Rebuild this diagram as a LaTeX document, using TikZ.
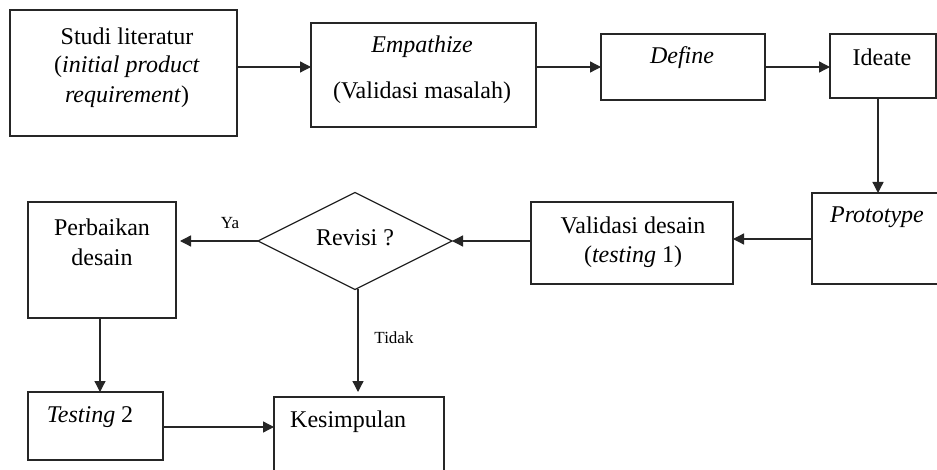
\documentclass[tikz,border=0pt]{standalone}
\usepackage{fontspec}
\setmainfont{Liberation Serif}
\usetikzlibrary{shapes.geometric,arrows.meta}
\begin{document}
\begin{tikzpicture}[x=1pt,y=-1pt,
  box/.style={draw=black!85,line width=1.3pt,inner sep=0pt,outer sep=0pt},
  txt/.style={font=\fontsize{24}{30}\selectfont,inner sep=0pt,align=center},
  small/.style={font=\fontsize{17}{20}\selectfont,inner sep=0pt},
  arr/.style={draw=black!85,line width=1.3pt,-{Triangle[length=11pt,width=11pt]}}]
\useasboundingbox (0,0) rectangle (937,470);
\clip (0,0) rectangle (937,470);
\fill[white] (0,0) rectangle (937,470);
% boxes
\node[box,minimum width=227pt,minimum height=126pt] (b1) at (123.5,73) {};
\node[box,minimum width=225pt,minimum height=104pt] (b2) at (423.5,75) {};
\node[box,minimum width=164pt,minimum height=66pt] (b3) at (683,67) {};
\node[box,minimum width=106pt,minimum height=64pt] (b4) at (883,66) {};
\node[box,minimum width=133pt,minimum height=91pt] (b5) at (878.5,238.5) {};
\node[box,minimum width=202pt,minimum height=82pt] (b6) at (632,243) {};
\node[box,diamond,aspect=2,minimum width=194pt,minimum height=97pt] (d) at (355,241) {};
\node[box,minimum width=148pt,minimum height=116pt] (b7) at (102,260) {};
\node[box,minimum width=135pt,minimum height=68pt] (b8) at (95.5,426) {};
\node[box,minimum width=170pt,minimum height=90pt] (b9) at (359,442) {};
% texts
\node[txt] (t1a) at (127,36) {Studi literatur};
\node[txt] (t1b) at (127,67) {(\textit{initial product}};
\node[txt] (t1c) at (127,97) {\textit{requirement})};
\node[txt] (t2a) at (422,47) {\textit{Empathize}};
\node[txt] (t2b) at (422,93) {(Validasi masalah)};
\node[txt] (t3) at (682,58) {\textit{Define}};
\node[txt] (t4) at (882,57) {Ideate};
\node[txt] (t5) at (877,217) {\textit{Prototype}};
\node[txt] (t6a) at (633,225) {Validasi desain};
\node[txt] (t6b) at (633,257) {(\textit{testing} 1)};
\node[txt] (td) at (355,238) {Revisi ?};
\node[txt] (t7a) at (102,227) {Perbaikan};
\node[txt] (t7b) at (102,257) {desain};
\node[txt] (t8) at (90,417) {\textit{Testing} 2};
\node[txt,anchor=west] (t9) at (290,422) {Kesimpulan};
\node[small] (lya) at (230,223) {Ya};
\node[small] (ltd) at (394,338) {Tidak};
% helper coordinates
\coordinate (r1) at (0,67);
\coordinate (rP) at (0,239);
\coordinate (cI) at (878,0);
\coordinate (cP) at (100,0);
\coordinate (cD) at (358,0);
\coordinate (eY) at (180,241);
\coordinate (eT) at (358,392);
\coordinate (cK) at (0,427);
% connectors
\draw[arr] (b1.east |- r1) -- (b2.west |- r1);
\draw[arr] (b2.east |- r1) -- (b3.west |- r1);
\draw[arr] (b3.east |- r1) -- (b4.west |- r1);
\draw[arr] (b4.south -| cI) -- (b5.north -| cI);
\draw[arr] (b5.west |- rP) -- (b6.east |- rP);
\draw[arr] (b6.west |- d.east) -- (d.east);
\draw[arr] (d.west) -- (eY);
\draw[arr] (b7.south -| cP) -- (b8.north -| cP);
\draw[arr] (d.south -| cD) -- (eT);
\draw[arr] (b8.east |- cK) -- (b9.west |- cK);
\end{tikzpicture}
\end{document}
